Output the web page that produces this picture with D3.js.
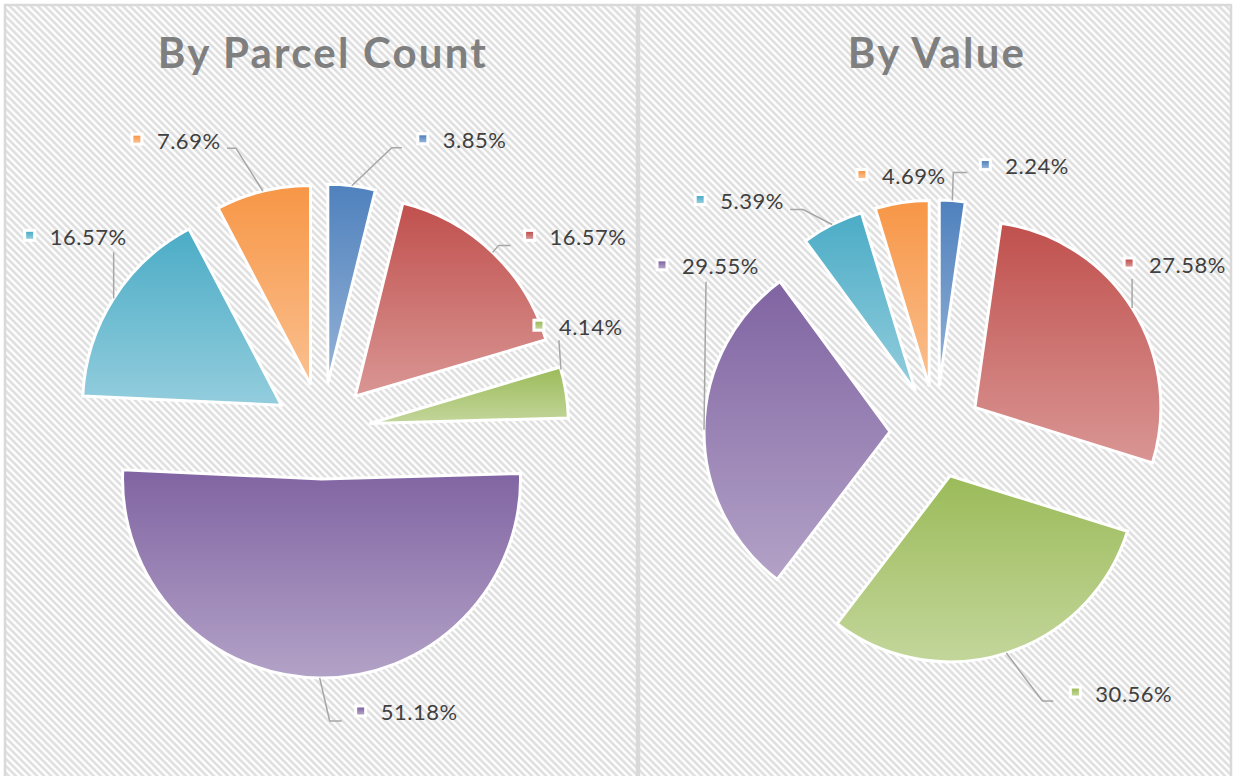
<!DOCTYPE html>
<html>
<head>
<meta charset="utf-8">
<script src="https://cdn.jsdelivr.net/npm/d3@7"></script>
<style>
  body { margin: 0; background: #fff; }
  svg { display: block; }
  .title { font-family: "Lato", "Open Sans", sans-serif; font-weight: 700; fill: #7f7f7f; letter-spacing: 2.2px; }
  .pct { font-family: "Lato", "Open Sans", sans-serif; fill: #404040; letter-spacing: 0.5px; }
</style>
</head>
<body>
<svg width="1234" height="776"></svg>
<script>
// data
var categories = ["Category 1", "Category 2", "Category 3", "Category 4", "Category 5", "Category 6"];
var parcelCountShares = [3.85, 16.57, 4.14, 51.18, 16.57, 7.69];
var valueShares = [2.24, 27.58, 30.56, 29.55, 5.39, 4.69];
var chartTitles = ["By Parcel Count", "By Value"];

// office theme colours, top and bottom of each slice gradient
var topColors = ["#4f81bd", "#c0504d", "#9bbb59", "#8064a2", "#4bacc6", "#f79646"];
var bottomColors = ["#95b3d7", "#d99694", "#c3d69b", "#b3a2c7", "#93cddd", "#fac090"];

var svg = d3.select("svg");
var width = +svg.attr("width");
var height = +svg.attr("height");

var color = d3.scaleOrdinal().domain(categories).range(d3.range(categories.length));
var fmt = function (v) { return d3.format(".2f")(v) + "%"; };

var defs = svg.append("defs");

var hatch = defs.append("pattern").attr("id", "hatch")
    .attr("patternUnits", "userSpaceOnUse").attr("width", 5).attr("height", 5)
    .attr("patternTransform", "rotate(-45)");
hatch.append("rect").attr("width", 5).attr("height", 5).attr("fill", "#fff");
hatch.append("line").attr("x1", 2.5).attr("x2", 2.5).attr("y1", 0).attr("y2", 5)
    .attr("stroke", "#dcdcdc").attr("stroke-width", 2.4);

categories.forEach(function (c, i) {
    var lg = defs.append("linearGradient").attr("id", "grad" + i)
        .attr("x1", 0).attr("y1", 0).attr("x2", 0).attr("y2", 1);
    lg.append("stop").attr("offset", "0%").attr("stop-color", topColors[i]);
    lg.append("stop").attr("offset", "100%").attr("stop-color", bottomColors[i]);
});

// label layout: dx,dy = legend key offset from the slice's outer mid point,
// t = where on the arc the leader starts, leader = bend points relative to the key
var charts = [
    {
        values: parcelCountShares, title: chartTitles[0],
        panel: [5, 5, 632], cx: 322, cy: 431, r: 199, explode: 48, titleX: 323,
        labels: [
            { dx: 71, dy: -47, leader: [[-31, 9], [-21, 9]] },
            { dx: 37, dy: -17, leader: [[-31, 10], [-19, 10]] },
            { dx: -27, dy: -67, t: 0.05, leader: [[20, 15]] },
            { dx: 41, dy: 33, leader: [[-31, 10], [-19, 10]] },
            { dx: -84, dy: -63, leader: [[84, 17]] },
            { dx: -126, dy: -52, leader: [[99, 9], [90, 9]] }
        ]
    },
    {
        values: valueShares, title: chartTitles[1],
        panel: [639, 5, 592], cx: 936, cy: 432, r: 186, explode: 46, titleX: 937,
        labels: [
            { dx: 33, dy: -36, leader: [[-32, 8], [-18, 8]] },
            { dx: -3, dy: -45, leader: [[3, 16]] },
            { dx: 69, dy: 39, leader: [[-33, 9], [-22, 9]] },
            { dx: -42, dy: -165, leader: [[44, 17]] },
            { dx: -132, dy: -25, leader: [[103, 10], [90, 10]] },
            { dx: -40, dy: -28, leader: null }
        ]
    }
];

var pie = d3.pie().sort(null).value(function (d) { return d; });

function polar(angle, dist) {
    return [dist * Math.sin(angle), -dist * Math.cos(angle)];
}

charts.forEach(function (c) {
    svg.append("rect")
        .attr("x", c.panel[0]).attr("y", c.panel[1])
        .attr("width", c.panel[2]).attr("height", height + 20)
        .attr("fill", "url(#hatch)").attr("stroke", "#d9d9d9").attr("stroke-width", 2.5);

    svg.append("text").attr("class", "title")
        .attr("x", c.titleX).attr("y", 68)
        .attr("text-anchor", "middle").attr("font-size", 42)
        .text(c.title);

    var g = svg.append("g").attr("transform", "translate(" + c.cx + "," + c.cy + ")");
    var arc = d3.arc().innerRadius(0).outerRadius(c.r);
    var arcs = pie(c.values);

    g.selectAll("path.slice").data(arcs).enter().append("path")
        .attr("class", "slice")
        .attr("transform", function (d) {
            return "translate(" + polar((d.startAngle + d.endAngle) / 2, c.explode) + ")";
        })
        .attr("d", arc)
        .attr("fill", function (d, i) { return "url(#grad" + color(categories[i]) + ")"; })
        .attr("stroke", "#fff").attr("stroke-width", 3).attr("stroke-linejoin", "miter");

    arcs.forEach(function (d, i) {
        var L = c.labels[i];
        var mid = (d.startAngle + d.endAngle) / 2;
        var off = polar(mid, c.explode);
        var edge = polar(mid, c.r);
        var key = [off[0] + edge[0] + L.dx, off[1] + edge[1] + L.dy];

        if (L.leader) {
            var t = L.t == null ? 0.5 : L.t;
            var s = polar(d.startAngle + t * (d.endAngle - d.startAngle), c.r);
            var pts = [[off[0] + s[0], off[1] + s[1]]].concat(L.leader.map(function (p) {
                return [key[0] + p[0], key[1] + p[1]];
            }));
            g.append("path").attr("d", d3.line()(pts))
                .attr("fill", "none").attr("stroke", "#a6a6a6").attr("stroke-width", 1.5);
        }

        g.append("rect").attr("x", key[0] - 6.5).attr("y", key[1] - 6.5)
            .attr("width", 13).attr("height", 13).attr("fill", "#fff");
        g.append("rect").attr("x", key[0] - 3.5).attr("y", key[1] - 3.5)
            .attr("width", 7).attr("height", 7)
            .attr("fill", "url(#grad" + color(categories[i]) + ")");
        g.append("text").attr("class", "pct")
            .attr("x", key[0] + 20).attr("y", key[1] + 9.5)
            .attr("font-size", 22)
            .text(fmt(c.values[i]));
    });
});
</script>
</body>
</html>
